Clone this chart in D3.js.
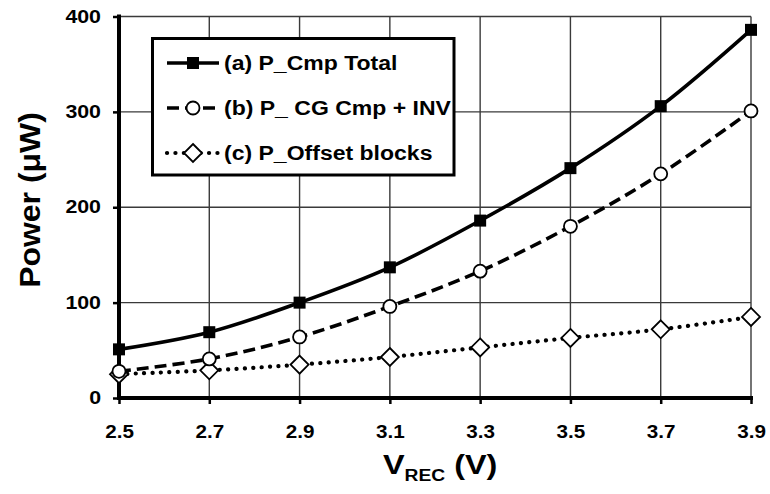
<!DOCTYPE html>
<html>
<head>
<meta charset="utf-8">
<script src="https://cdn.jsdelivr.net/npm/d3@7"></script>
<style>
  html, body { margin: 0; padding: 0; background: #fff; }
  svg { display: block; font-family: "Liberation Sans", Arial, sans-serif; font-weight: bold; }
</style>
</head>
<body>
<svg id="chart" width="770" height="494"></svg>
<script>
// Supply voltage sweep (V) and power per block (µW)
const vrec = [2.5, 2.7, 2.9, 3.1, 3.3, 3.5, 3.7, 3.9];
const pCmpTotal = [51, 69, 100, 137, 186, 241, 306, 386];
const pCgCmpInv = [28, 41, 64, 96, 133, 180, 235, 301];
const pOffset = [25, 29, 35, 43, 53, 63, 72, 85];

const xTicks = [2.5, 2.7, 2.9, 3.1, 3.3, 3.5, 3.7, 3.9];
const yTicks = [0, 100, 200, 300, 400];

const seriesNames = ["(a) P_Cmp Total", "(b) P_ CG Cmp + INV", "(c) P_Offset blocks"];

const svg = d3.select("#chart");

const x = d3.scaleLinear().domain([2.5, 3.9]).range([119, 751]);
const y = d3.scaleLinear().domain([0, 400]).range([398, 16.5]);

// widen glyphs horizontally for the broad bold lettering
function stretch(sel, k) {
  sel.each(function () {
    const w = this.getComputedTextLength();
    this.setAttribute("textLength", w * k);
    this.setAttribute("lengthAdjust", "spacingAndGlyphs");
  });
}

// grid
const grid = svg.append("g").attr("stroke", "#3a3a3a").attr("stroke-width", 1.4);
grid.selectAll("line.v").data(xTicks.slice(1)).join("line")
  .attr("x1", d => x(d)).attr("x2", d => x(d))
  .attr("y1", y(400)).attr("y2", y(0));
grid.selectAll("line.h").data(yTicks.slice(1)).join("line")
  .attr("x1", x(2.5)).attr("x2", x(3.9))
  .attr("y1", d => y(d)).attr("y2", d => y(d));

// axes
const yAxis = d3.axisLeft(y).tickValues(yTicks).tickSize(6).tickPadding(12).tickFormat(d3.format("d"));
const xAxis = d3.axisBottom(x).tickValues(xTicks).tickSize(6).tickPadding(22).tickFormat(d3.format(".1f"));

const gy = svg.append("g").attr("transform", `translate(${x(2.5)},0)`).call(yAxis);
const gx = svg.append("g").attr("transform", `translate(0,${y(0)})`).call(xAxis);

[gy, gx].forEach(g => {
  g.select(".domain").remove();
  g.selectAll(".tick line").attr("stroke", "#000").attr("stroke-width", 2.5);
  g.selectAll("text").attr("fill", "#000").attr("font-size", 17.5).attr("font-family", "Liberation Sans, Arial, sans-serif").attr("font-weight", "bold");
});
gx.selectAll(".tick text").attr("dy", "0.71em");

svg.append("line").attr("x1", x(2.5)).attr("x2", x(2.5)).attr("y1", y(400) - 2).attr("y2", y(0) + 2)
  .attr("stroke", "#000").attr("stroke-width", 4);
svg.append("line").attr("x1", x(2.5) - 2).attr("x2", x(3.9) + 2).attr("y1", y(0)).attr("y2", y(0))
  .attr("stroke", "#000").attr("stroke-width", 4);

gy.selectAll("text").call(stretch, 1.22);
gx.selectAll("text").call(stretch, 1.18);

// series
const series = [
  { name: seriesNames[0], values: pCmpTotal, dash: null, width: 3.6, cap: "butt", marker: "square" },
  { name: seriesNames[1], values: pCgCmpInv, dash: "12,6", width: 3.6, cap: "butt", marker: "circle" },
  { name: seriesNames[2], values: pOffset, dash: "0.1,8.3", width: 4.2, cap: "round", marker: "diamond" }
];

const line = d3.line().x(d => x(d[0])).y(d => y(d[1])).curve(d3.curveCatmullRom.alpha(0.5));

function drawMarker(g, type) {
  if (type === "square") {
    g.append("rect").attr("x", -6).attr("y", -6).attr("width", 12).attr("height", 12).attr("fill", "#000");
  } else if (type === "circle") {
    g.append("circle").attr("r", 6.5).attr("fill", "#fff").attr("stroke", "#000").attr("stroke-width", 1.8);
  } else {
    g.append("path").attr("d", "M0,-9L9,0L0,9L-9,0Z").attr("fill", "#fff").attr("stroke", "#000").attr("stroke-width", 1.8);
  }
}

series.slice().reverse().forEach(s => {
  const pts = vrec.map((v, i) => [v, s.values[i]]);
  svg.append("path").datum(pts).attr("d", line)
    .attr("fill", "none").attr("stroke", "#000").attr("stroke-width", s.width)
    .attr("stroke-dasharray", s.dash).attr("stroke-linecap", s.cap);
  svg.append("g").selectAll("g").data(pts).join("g")
    .attr("transform", d => `translate(${x(d[0])},${y(d[1])})`)
    .each(function () { drawMarker(d3.select(this), s.marker); });
});

// legend
const legend = svg.append("g");
legend.append("rect").attr("x", 152.5).attr("y", 38.5).attr("width", 301.5).attr("height", 136.5)
  .attr("fill", "#fff").attr("stroke", "#000").attr("stroke-width", 3);
const rowY = [63, 108, 153];
series.forEach((s, i) => {
  const row = legend.append("g").attr("transform", `translate(0,${rowY[i]})`);
  row.append("line").attr("x1", 167).attr("x2", 219).attr("y1", 0).attr("y2", 0)
    .attr("stroke", "#000").attr("stroke-width", s.width)
    .attr("stroke-dasharray", s.dash).attr("stroke-linecap", s.cap);
  const m = row.append("g").attr("transform", "translate(193,0)");
  drawMarker(m, s.marker);
  row.append("text").attr("x", 224).attr("y", 7).attr("font-size", 19.5).text(s.name).call(stretch, 1.18);
});

// axis titles
svg.append("text").attr("transform", "translate(40,200) rotate(-90)")
  .attr("text-anchor", "middle").attr("font-size", 29).text("Power  (\u03bcW)").call(stretch, 1.1);

const xt = svg.append("text").attr("x", 383).attr("y", 474).attr("font-size", 27);
xt.append("tspan").text("V");
xt.append("tspan").attr("font-size", 16).attr("dy", 7).text("REC");
xt.append("tspan").attr("dy", -7).text(" (V)");
xt.selectAll("tspan").call(stretch, 1.2);
</script>
</body>
</html>
